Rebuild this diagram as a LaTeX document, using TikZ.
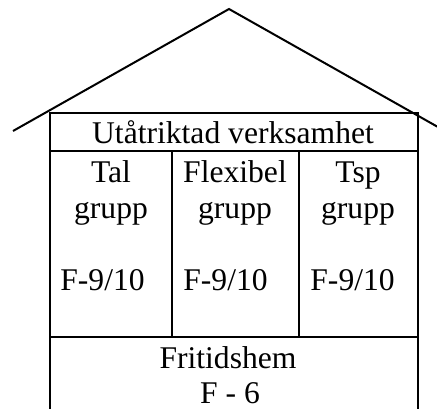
\documentclass[tikz,border=0pt]{standalone}
\usepackage{fontspec}
\setmainfont{Liberation Serif}
\begin{document}
\begin{tikzpicture}[
        x=0.5pt, y=-0.5pt,
        wall/.style={draw, line width=1pt},
        txt/.style={font=\fontsize{15.8}{18}\selectfont, inner sep=0pt, anchor=base},
        txtleft/.style={txt, anchor=base west}
    ]
        \useasboundingbox (0,0) rectangle (437,408);
        \clip (0,0) rectangle (437,408);

        % Dach
        \coordinate (RL) at (13,131);
        \coordinate (RT) at (229,9);
        \coordinate (RR) at (445,131);
        \draw[wall] (RL) -- (RT) -- (RR);

        % Haus (unten offen, laeuft aus dem Bild)
        \coordinate (HL) at (50,113);
        \coordinate (HR) at (418,113);
        \draw[wall] (50,420) -- (HL) -- (HR) -- (418,420);
        \draw[wall] (50,151) -- (418,151);
        \draw[wall] (50,337) -- (418,337);
        \foreach \x in {172,299}
            \draw[wall] (\x,151) -- (\x,337);

        % Rubrik
        \node[txt] (hdr) at (233,143) {Utåtriktad verksamhet};

        % Grupper
        \foreach \i/\cx/\name/\lx in {1/111/Tal/60, 2/235/Flexibel/183, 3/358/Tsp/310} {
            \node[txt] (name\i) at (\cx,182) {\name};
            \node[txt] (grp\i) at (\cx,218) {grupp};
            \node[txtleft] (klass\i) at (\lx,290) {F-9/10};
        }

        % Fritidshem
        \node[txt] (fritid) at (228,368) {Fritidshem};
        \node[txt] (fritidF) at (230,403) {F - 6};
\end{tikzpicture}
\end{document}
